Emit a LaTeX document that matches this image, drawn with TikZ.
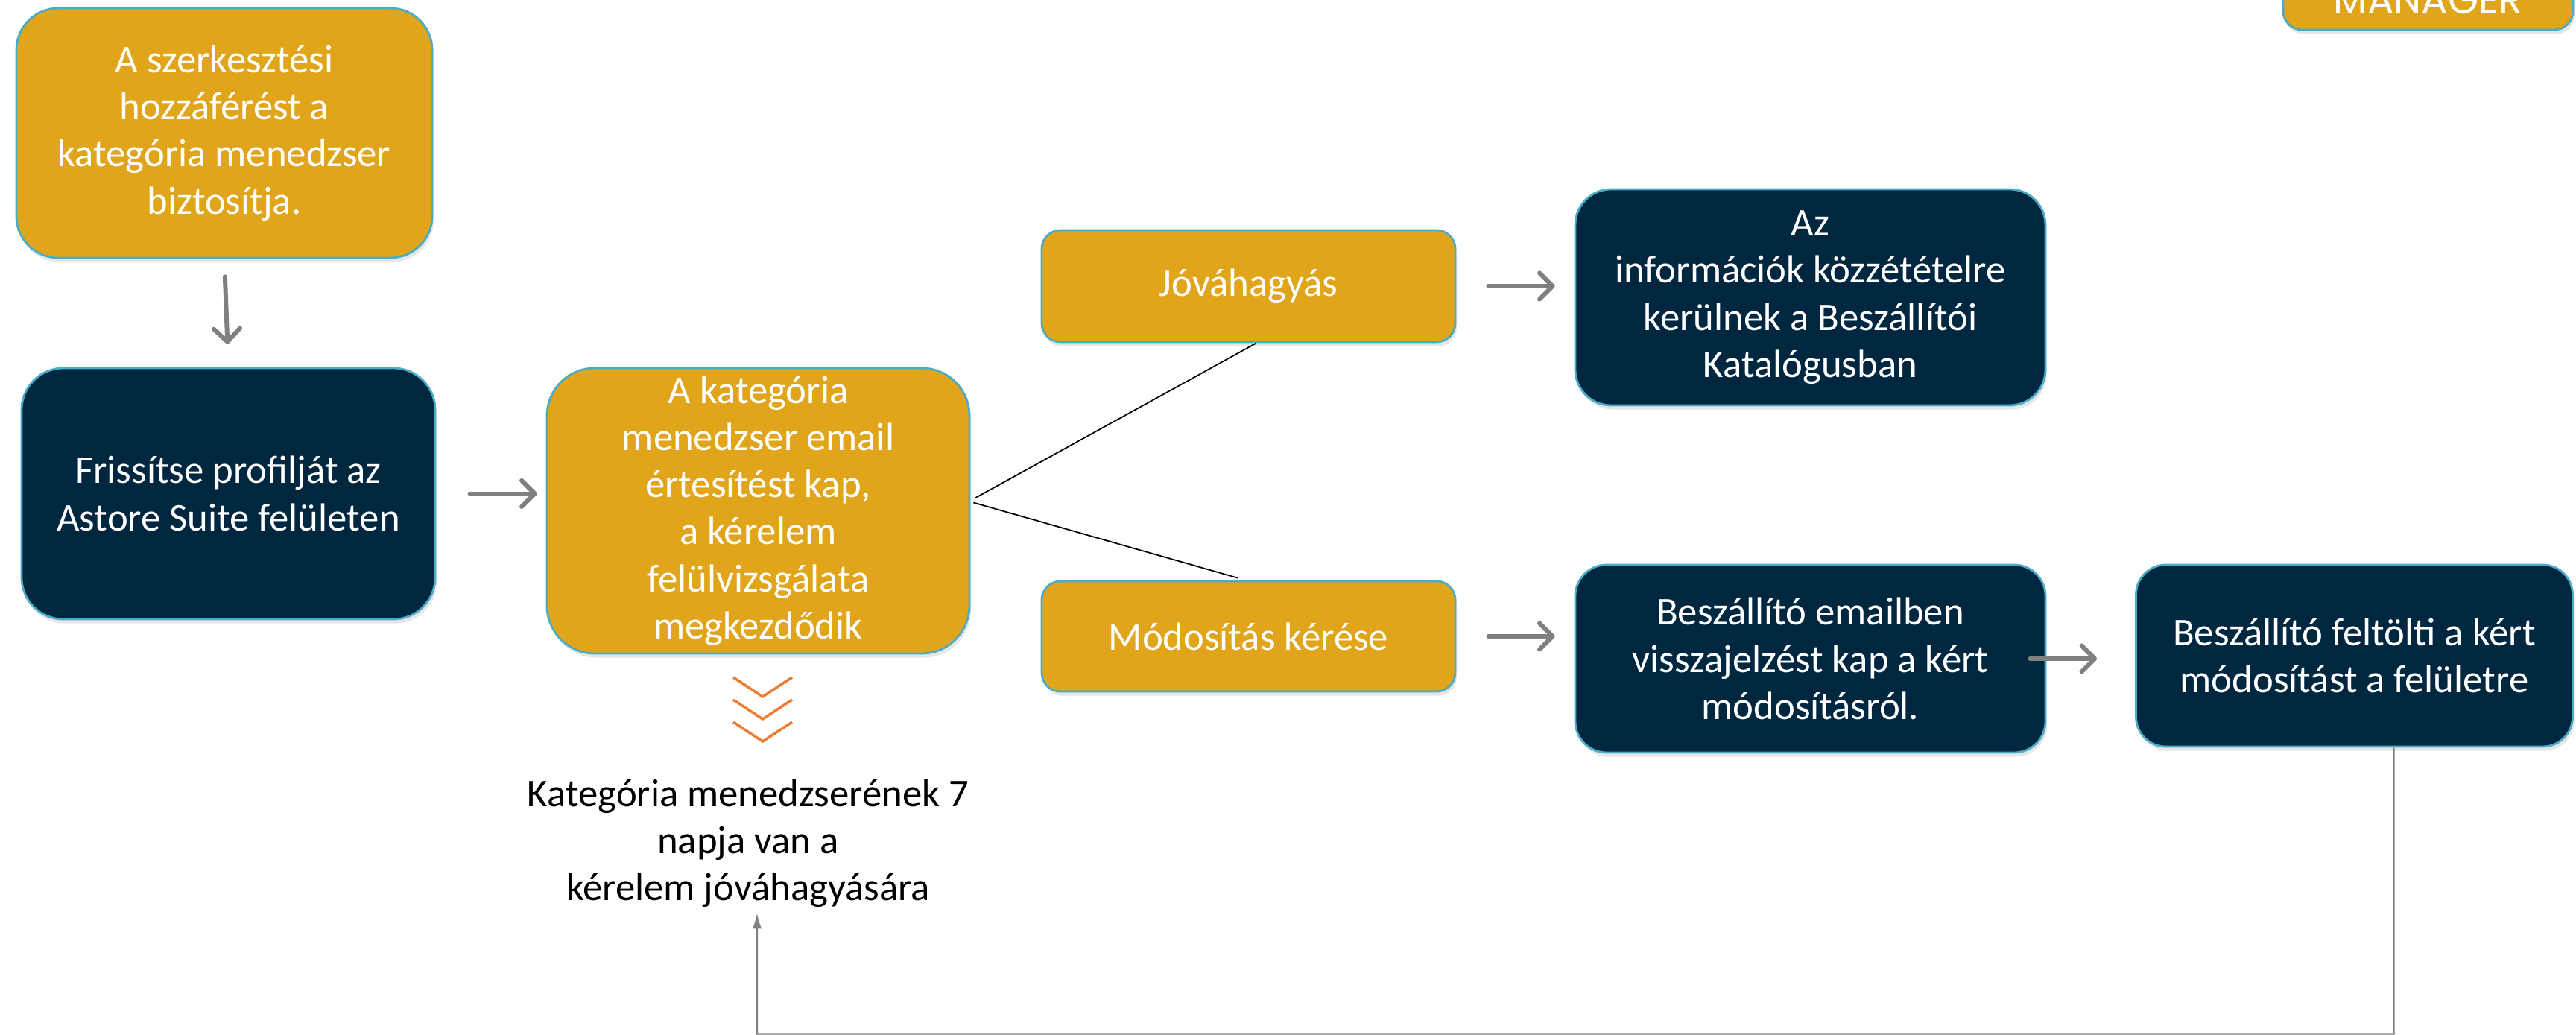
\documentclass[tikz,border=0pt]{standalone}
\usepackage{fontspec}
\setmainfont{Carlito}
\newfontfamily\managerfont{Poppins}
\usetikzlibrary{arrows.meta, shadows}
\definecolor{stepgold}{RGB}{224,165,27}
\definecolor{stepnavy}{RGB}{0,39,64}
\definecolor{stepedge}{RGB}{75,172,198}
\definecolor{arrowgray}{RGB}{128,128,128}
\definecolor{chevronorange}{RGB}{237,125,49}
\tikzset{
  stepbox/.style={draw=stepedge, line width=0.8pt, text=white, align=center,
    inner xsep=4pt, inner ysep=0.5pt, font=\fontsize{15}{18}\selectfont,
    drop shadow={opacity=0.2, shadow xshift=0.6pt, shadow yshift=-1.6pt}},
  goldbox/.style={stepbox, fill=stepgold},
  navybox/.style={stepbox, fill=stepnavy},
  notetext/.style={align=center, inner sep=0pt, font=\fontsize{15}{18}\selectfont},
  flowarrow/.style={arrowgray, line width=1.7pt, line cap=round,
    -{Straight Barb[length=5pt, width=10pt, round]}},
  splitline/.style={black, line width=0.5pt},
  loopline/.style={arrowgray, line width=0.6pt, -{Latex[length=6pt, width=3.5pt]}},
  chevron/.style={chevronorange, line width=1pt},
}
\newcommand{\GenericStepBox}[7]{
  \node [#1, minimum width=#4cm, minimum height=#5cm, rounded corners=#6cm] (#2) at (#3) {#7};
}
\newcommand{\GoldStep}[6]{
  \GenericStepBox{goldbox}{#1}{#2}{#3}{#4}{#5}{#6}
}
\newcommand{\NavyStep}[6]{
  \GenericStepBox{navybox}{#1}{#2}{#3}{#4}{#5}{#6}
}
\newcommand{\StepArrow}[4]{
  \draw [flowarrow, shorten <=#3cm, shorten >=#4cm] (#1.east) -- (#1.east -| #2.west);
}

\begin{document}
\begin{tikzpicture}
        \useasboundingbox (0,0) rectangle (34.57,-13.89);

        % role box, cut by the top edge
        \GoldStep{manager}{32.585, 0.0}{3.89}{0.80}{0.25}{\managerfont MANAGER}

        % access -> profile column
        \GoldStep{hozzaferes}{3.01, -1.785}{5.58}{3.35}{0.56}{A szerkesztési\\hozzáférést a\\kategória menedzser\\biztosítja.}
        \NavyStep{frissites}{3.065, -6.625}{5.55}{3.37}{0.56}{Frissítse profilját az\\Astore Suite felületen}
        \draw [flowarrow, shorten <=0.24cm, shorten >=0.31cm] (hozzaferes.south) -- (frissites.north);

        % review by the category manager
        \GoldStep{kerelem}{10.175, -6.855}{5.67}{3.83}{0.64}{A kategória\\menedzser email\\értesítést kap,\\a kérelem\\felülvizsgálata\\megkezdődik}
        \StepArrow{frissites}{kerelem}{0.45}{0.12}

        % 7 days
        \foreach \k in {0,1,2}
          \draw [chevron] (9.84, {-9.09-0.3*\k}) -- (10.235, {-9.35-0.3*\k}) -- (10.63, {-9.09-0.3*\k});
        \node [notetext] (napok) at (10.04, -11.315) {Kategória menedzserének 7\\napja van a\\kérelem jóváhagyására};

        % the two outcomes
        \GoldStep{jovahagyas}{16.755, -3.84}{5.55}{1.50}{0.25}{Jóváhagyás}
        \GoldStep{modositas}{16.755, -8.54}{5.55}{1.48}{0.25}{Módosítás kérése}
        \draw [splitline] ([xshift=0.06cm, yshift=0.17cm]kerelem.east) -- ([xshift=0.105cm]jovahagyas.south);
        \draw [splitline] ([xshift=0.04cm, yshift=0.11cm]kerelem.east) -- ([xshift=-0.145cm, yshift=0.03cm]modositas.north);

        % approval row
        \NavyStep{kozzetetel}{24.295, -3.99}{6.31}{2.90}{0.48}{Az\\információk közzétételre\\kerülnek a Beszállítói\\Katalógusban}
        \StepArrow{jovahagyas}{kozzetetel}{0.43}{0.26}

        % change request row
        \NavyStep{visszajelzes}{24.295, -8.84}{6.31}{2.52}{0.42}{Beszállító emailben\\visszajelzést kap a kért\\módosításról.}
        \NavyStep{feltoltes}{31.595, -8.80}{5.86}{2.44}{0.40}{Beszállító feltölti a kért\\módosítást a felületre}
        \StepArrow{modositas}{visszajelzes}{0.43}{0.26}
        \StepArrow{visszajelzes}{feltoltes}{-0.22}{0.51}

        % back to the review
        \coordinate (loopright) at (32.125, -13.875);
        \coordinate (loopleft) at (10.16, -13.875);
        \draw [loopline] ([xshift=0.53cm]feltoltes.south) -- (loopright) -- (loopleft) -- ([xshift=0.12cm, yshift=-0.07cm]napok.south);

      \end{tikzpicture}
\end{document}
